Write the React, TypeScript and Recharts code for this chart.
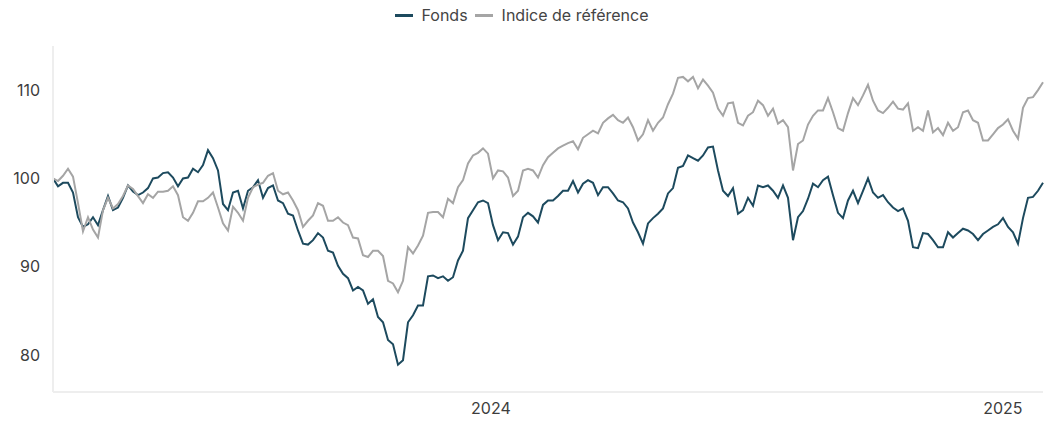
import { LineChart, Line, XAxis, YAxis, Legend } from 'recharts'

// Fund vs benchmark, rebased to 100, two readings a week
const fonds = [
  100.0, 99.1, 99.5, 99.5, 98.4, 95.6, 94.5, 94.8, 95.6, 94.7,
  96.4, 98.0, 96.4, 96.7, 97.8, 99.2, 98.5, 98.1, 98.4, 98.9,
  100.0, 100.1, 100.6, 100.7, 100.1, 99.1, 100.0, 100.1, 101.1, 100.7,
  101.5, 103.2, 102.3, 100.9, 97.1, 96.4, 98.4, 98.6, 96.6, 98.6,
  99.0, 99.8, 97.8, 98.9, 99.2, 97.5, 97.2, 96.0, 95.8, 94.1,
  92.6, 92.5, 93.0, 93.8, 93.3, 91.8, 91.6, 90.1, 89.2, 88.7,
  87.3, 87.7, 87.3, 85.8, 86.3, 84.3, 83.7, 81.7, 81.2, 78.9,
  79.4, 83.7, 84.5, 85.6, 85.6, 88.9, 89.0, 88.7, 88.9, 88.4,
  88.8, 90.7, 91.8, 95.5, 96.4, 97.3, 97.5, 97.2, 94.7, 93.0,
  93.9, 93.8, 92.5, 93.4, 95.6, 96.1, 95.7, 95.0, 97.0, 97.5,
  97.5, 98.0, 98.6, 98.6, 99.7, 98.4, 99.4, 99.8, 99.5, 98.1,
  99.0, 99.0, 98.3, 97.5, 97.3, 96.6, 95.0, 93.9, 92.6, 94.9,
  95.5, 96.0, 96.6, 98.3, 98.9, 101.2, 101.4, 102.6, 102.3, 102.0,
  102.6, 103.5, 103.6, 100.9, 98.6, 98.0, 98.9, 96.0, 96.4, 97.8,
  96.9, 99.2, 99.0, 99.2, 98.6, 97.8, 99.2, 97.8, 93.0, 95.6,
  96.3, 97.7, 99.4, 99.0, 99.8, 100.2, 98.1, 96.1, 95.5, 97.5,
  98.6, 97.2, 98.6, 100.0, 98.4, 97.8, 98.1, 97.3, 96.7, 96.3,
  96.6, 95.2, 92.2, 92.1, 93.8, 93.7, 93.0, 92.2, 92.2, 93.9,
  93.3, 93.8, 94.3, 94.1, 93.7, 93.0, 93.7, 94.1, 94.5, 94.8,
  95.5, 94.5, 93.9, 92.6, 95.5, 97.8, 97.9, 98.6, 99.5,
]

const indice = [
  100.0, 99.7, 100.3, 101.1, 100.2, 97.2, 94.0, 95.6, 94.2, 93.3,
  96.4, 97.8, 96.6, 97.1, 98.0, 99.2, 98.8, 98.0, 97.2, 98.2,
  97.8, 98.5, 98.5, 98.6, 99.1, 98.1, 95.6, 95.2, 96.1, 97.4,
  97.4, 97.8, 98.4, 96.7, 94.9, 94.1, 96.8, 96.1, 95.2, 97.8,
  99.0, 99.3, 99.5, 100.3, 100.6, 98.6, 98.2, 98.4, 97.5, 96.4,
  94.5, 95.2, 95.8, 97.2, 96.9, 95.2, 95.2, 95.6, 95.0, 94.7,
  93.3, 93.2, 91.3, 91.1, 91.8, 91.8, 91.2, 88.4, 88.1, 87.1,
  88.4, 92.2, 91.5, 92.4, 93.5, 96.1, 96.2, 96.2, 95.6, 97.7,
  97.2, 99.0, 99.8, 101.7, 102.6, 102.9, 103.4, 102.8, 100.0, 100.9,
  100.8, 100.1, 98.0, 98.6, 100.9, 101.1, 100.9, 100.1, 101.5, 102.4,
  102.9, 103.4, 103.7, 104.0, 104.2, 103.3, 104.6, 105.0, 105.4, 105.1,
  106.3, 106.8, 107.2, 106.6, 106.3, 106.9, 105.8, 104.3, 105.0, 106.6,
  105.4, 106.3, 106.9, 108.4, 109.6, 111.4, 111.5, 111.0, 111.5, 110.2,
  111.2, 110.5, 109.7, 107.9, 107.1, 108.5, 108.6, 106.3, 106.0, 107.1,
  107.5, 108.8, 108.3, 107.1, 107.9, 106.2, 106.6, 105.8, 100.9, 103.9,
  104.3, 106.1, 107.1, 107.7, 107.7, 109.1, 107.5, 105.7, 105.4, 107.4,
  109.1, 108.3, 109.4, 110.6, 108.8, 107.7, 107.4, 108.0, 108.7, 107.9,
  107.8, 108.5, 105.4, 105.8, 105.4, 107.7, 105.2, 105.7, 104.9, 106.3,
  105.4, 105.8, 107.5, 107.7, 106.6, 106.3, 104.3, 104.3, 105.0, 105.7,
  106.1, 106.7, 105.4, 104.5, 108.0, 109.1, 109.2, 110.0, 110.9,
]

const startDate = Date.UTC(2023, 1, 22)
const stepMs = 3.574 * 86400000
const yearTicks = [Date.UTC(2024, 0, 1), Date.UTC(2025, 0, 1)]
const yTicks = [80, 90, 100, 110]

const series = [
  { key: 'fonds', name: 'Fonds', color: '#1d4a5e' },
  { key: 'indice', name: 'Indice de référence', color: '#a5a5a5' },
]

const data = fonds.map((v, i) => ({
  t: startDate + i * stepMs,
  fonds: v,
  indice: indice[i],
}))

const font = 'Inter, "Noto Sans", sans-serif'

const renderLegend = () => (
  <div
    style={{
      display: 'flex',
      justifyContent: 'center',
      alignItems: 'center',
      fontFamily: font,
      fontSize: 16,
      lineHeight: '14px',
      color: '#444',
    }}
  >
    {series.map((s, i) => (
      <span
        key={s.key}
        style={{ display: 'inline-flex', alignItems: 'center', marginLeft: i ? 7 : 0 }}
      >
        <span style={{ width: 18, height: 3, background: s.color, marginRight: 9 }} />
        {s.name}
      </span>
    ))}
  </div>
)

export default function App() {
  return (
    <LineChart
      width={1045}
      height={413}
      data={data}
      margin={{ top: 0, right: 10, bottom: 0, left: 0 }}
    >
      <Legend
        verticalAlign="top"
        height={38}
        content={renderLegend}
        wrapperStyle={{ left: 0, top: 0, width: 1027 }}
      />
      <XAxis
        dataKey="t"
        type="number"
        domain={['dataMin', 'dataMax']}
        ticks={yearTicks}
        tickFormatter={(t) => String(new Date(t).getUTCFullYear())}
        tickLine={false}
        tickSize={0}
        tickMargin={11}
        height={29}
        axisLine={{ stroke: '#eeeeee', strokeWidth: 2 }}
        tick={{ fill: '#3d3d3d', fontSize: 16, fontFamily: font }}
      />
      <YAxis
        domain={[75.8, 115]}
        ticks={yTicks}
        width={45}
        tickLine={false}
        tickSize={0}
        tickMargin={13}
        axisLine={{ stroke: '#eeeeee', strokeWidth: 2 }}
        tick={{ fill: '#3d3d3d', fontSize: 16, fontFamily: font }}
      />
      {series.map((s) => (
        <Line
          key={s.key}
          dataKey={s.key}
          name={s.name}
          type="linear"
          stroke={s.color}
          strokeWidth={2}
          dot={false}
          activeDot={false}
          isAnimationActive={false}
        />
      ))}
    </LineChart>
  )
}
